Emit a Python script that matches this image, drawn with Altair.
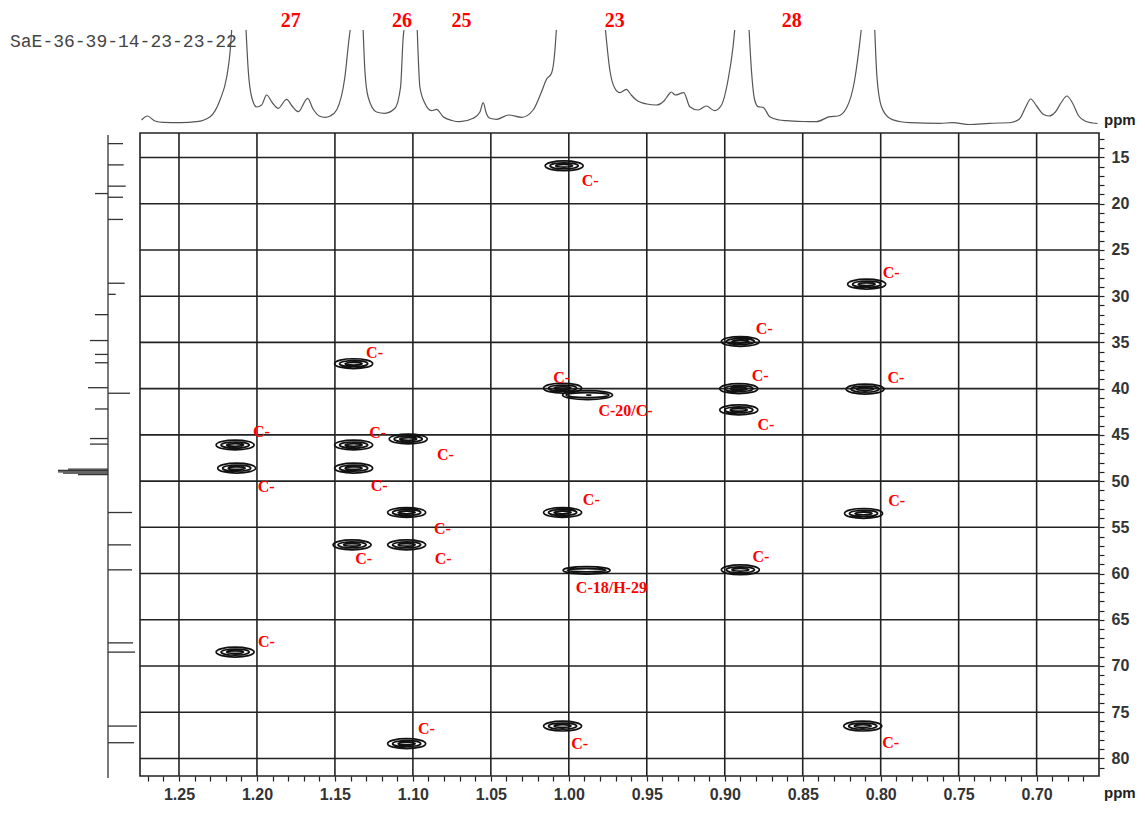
import altair as alt
import pandas as pd

# ---------------- data ----------------
sample_id = ["SaE-36-39-14-23-23-22"]

# HMBC cross peaks: 1H shift (ppm, x) and 13C shift (ppm, y)
peak_h = [1.003, 0.809, 0.890, 1.138, 1.004, 0.891, 0.810, 0.891, 1.214, 1.138,
          1.103, 1.213, 1.138, 1.104, 1.004, 0.811, 1.139, 1.104, 0.890, 1.214,
          1.004, 0.8115, 1.104]
peak_c = [15.9, 28.7, 34.9, 37.3, 39.95, 40.0, 40.05, 42.3, 46.1, 46.1,
          45.45, 48.6, 48.6, 53.4, 53.4, 53.5, 56.9, 56.9, 59.6, 68.5,
          76.5, 76.5, 78.4]

# broad / overlapping cross peaks
c20_h = [0.988]
c20_c = [40.7]
c18_h = [0.9886]
c18_c = [59.65]

# red assignment labels (left edge position)
label_text = ["C-", "C-", "C-", "C-", "C-", "C-", "C-", "C-20/C-", "C-", "C-",
              "C-", "C-", "C-", "C-", "C-", "C-", "C-", "C-", "C-", "C-",
              "C-18/H-29", "C-", "C-", "C-", "C-"]
label_h = [0.9917, 0.7987, 0.8801, 1.130, 0.8827, 0.7956, 1.0100, 0.9810, 0.8790, 1.2026,
           1.1280, 1.0846, 1.1995, 1.1270, 0.9910, 0.7952, 1.0865, 1.1370, 1.0860, 0.8822,
           0.9955, 1.1993, 1.0968, 0.9985, 0.7990]
label_c = [17.56, 27.53, 33.55, 36.1, 38.6, 38.9, 38.9, 42.45, 43.9, 44.7,
           44.8, 47.2, 50.6, 50.5, 52.1, 52.2, 55.2, 58.4, 58.4, 58.25,
           61.55, 67.4, 76.8, 78.45, 78.3]

# proton numbers above the 1D trace
top_text = ["27", "26", "25", "23", "28"]
top_h = [1.1784, 1.107, 1.0688, 0.9705, 0.8571]

# 1D 1H trace along the top (ppm, relative intensity, trace segment)
spec_ppm = [1.2740, 1.2703, 1.2654, 1.2600, 1.2490, 1.2387, 1.2300, 1.2237, 1.2194, 1.2173, 1.2162,
            1.2070, 1.2056, 1.2034, 1.2002, 1.1970, 1.1938, 1.1900, 1.1863, 1.1810, 1.1770,
            1.1735, 1.1675, 1.1640, 1.1600, 1.1564, 1.1530, 1.1489, 1.1436, 1.1408, 1.1402,
            1.1319, 1.1308, 1.1287, 1.1233, 1.1180, 1.1115, 1.1079, 1.1062, 1.1057,
            1.0972, 1.0955, 1.0923, 1.0880, 1.0848, 1.0806, 1.0750, 1.0699, 1.0613, 1.0570,
            1.0549, 1.0530, 1.0506, 1.0463, 1.0385, 1.0303, 1.0229, 1.0175, 1.0143, 1.0111,
            1.0090, 1.0080,
            0.9765, 0.9737, 0.9705, 0.9673, 0.9631, 0.9600, 0.9567, 0.9500, 0.9439, 0.9390,
            0.9353, 0.9343, 0.9317, 0.9263, 0.9224, 0.9171, 0.9118, 0.9065, 0.9021, 0.8979,
            0.8947, 0.8936,
            0.8844, 0.8829, 0.8808, 0.8786, 0.8754, 0.8712, 0.8650, 0.8604, 0.8500, 0.8412,
            0.8327, 0.8274, 0.8220, 0.8167, 0.8131, 0.8125,
            0.8038, 0.8024, 0.7995, 0.7942, 0.7880, 0.7814, 0.7622, 0.7538, 0.7429, 0.7301,
            0.7164, 0.7110, 0.7070, 0.7038, 0.7000, 0.6960, 0.6921, 0.6880, 0.6840, 0.6806,
            0.6770, 0.6730, 0.6690, 0.6640, 0.6609]
spec_int = [7, 11, 6, 4.6, 4.3, 5.3, 10.3, 27, 50, 74, 97,
            97, 57, 30, 20, 22, 32, 24, 18.7, 27.7, 20,
            15.3, 28.7, 18, 11, 9.7, 11, 17, 50, 90, 97,
            97, 57, 30, 15, 13.7, 18.7, 40, 90, 97,
            97, 40, 23.7, 16.3, 17.7, 10.3, 6.5, 5.3, 8.7, 15,
            24.3, 14, 8.7, 7.7, 12, 9.7, 17, 35.3, 47.7, 53.7,
            75, 97,
            97, 57, 38.7, 34.3, 37.7, 32, 27, 23, 22, 26,
            33.7, 35, 32, 34.3, 20.3, 17, 21, 16.3, 22, 47,
            80, 97,
            97, 57, 27, 20.3, 19.7, 10.3, 7, 6.3, 5.5, 5.3,
            10.3, 11, 18.7, 47, 88.7, 97,
            97, 50, 20.3, 8.7, 5.5, 4.3, 3.7, 4.3, 2.5, 3.7,
            4.5, 8, 20, 28, 21, 13, 11, 15, 25, 31,
            24, 11, 6, 4, 3.5]
spec_seg = ([0] * 11 + [1] * 20 + [2] * 9 + [3] * 22 + [4] * 22 + [5] * 16 + [6] * 25)

# 13C projection on the left (13C ppm, signed line length)
proj_c = [13.5, 15.8, 18.1, 18.9, 19.3, 21.7, 28.6, 29.8, 32.0, 34.8, 36.3, 37.2, 39.9, 40.5,
          42.2, 45.4, 46.0, 48.7, 48.85, 49.0, 49.15, 49.3, 53.4, 56.9, 59.6, 67.5, 68.5,
          76.5, 78.3]
proj_v = [15, 15.7, 17.7, -13, 15, 15, 16.7, 7.7, -13, -18, -13, -13, -20, 22,
          -13, -18, -18, -40, -50, -50, -45, -30, 24, 23, 24, 25, 27,
          29, 26]

# axis ticks
x_major = [1.25, 1.20, 1.15, 1.10, 1.05, 1.00, 0.95, 0.90, 0.85, 0.80, 0.75, 0.70]
y_major = [15, 20, 25, 30, 35, 40, 45, 50, 55, 60, 65, 70, 75, 80]
x_minor = [round(1.27 - 0.01 * i, 2) for i in range(61)]
y_minor = list(range(13, 82))

# ---------------- layout / style ----------------
W, H = 959, 643
INK = "#222222"
RED = "#ff0000"

XS = alt.Scale(domain=[1.275, 0.660], nice=False, zero=False)
YS = alt.Scale(domain=[12.35, 81.9], reverse=True, nice=False, zero=False)
TOP_YS = alt.Scale(domain=[0, 100], range=[-6, -106], nice=False, zero=False)
LEFT_XS = alt.Scale(domain=[0, 100], range=[-32, 68], nice=False, zero=False)


def ring(rx, ry):
    return f"M{-rx},0 A{rx},{ry} 0 1,0 {rx},0 A{rx},{ry} 0 1,0 {-rx},0 Z "


PEAK_SHAPE = ring(1, 0.26) + ring(0.74, 0.16) + ring(0.45, 0.07)
C20_SHAPE = ring(1, 0.18) + ring(0.86, 0.1) + "M-0.05,0 L0.15,0"
C18_SHAPE = ring(1, 0.16) + ring(0.82, 0.07)

x_axis = alt.Axis(orient="bottom", values=x_minor,
                  labelExpr="abs(datum.value*20 - round(datum.value*20)) < 0.01 ? format(datum.value, '.2f') : ''",
                  grid=False, domain=False, tickSize=5, tickWidth=1.2, tickColor=INK,
                  labelFont="Liberation Sans", labelFontSize=16, labelFontWeight="bold",
                  labelColor="#333333", labelPadding=5, labelOverlap=False, labelFlush=False,
                  title=None)
y_axis = alt.Axis(orient="right", values=y_minor,
                  labelExpr="datum.value % 5 == 0 ? datum.value : ''",
                  grid=False, domain=False, tickSize=5, tickWidth=1.2, tickColor=INK,
                  labelFont="Liberation Sans", labelFontSize=16, labelFontWeight="bold",
                  labelColor="#333333", labelPadding=7, labelOverlap=False, labelFlush=False,
                  title=None)

# ---------------- main 2D panel ----------------
grid_x = alt.Chart(pd.DataFrame({"h": x_major})).mark_rule(color=INK, strokeWidth=1.6).encode(
    x=alt.X("h:Q", scale=XS, axis=x_axis))
grid_y = alt.Chart(pd.DataFrame({"c": y_major})).mark_rule(color=INK, strokeWidth=1.6).encode(
    y=alt.Y("c:Q", scale=YS, axis=y_axis))

def peak_layer(h, c, shape, size):
    return alt.Chart(pd.DataFrame({"h": h, "c": c})).mark_point(
        shape=shape, size=size, filled=False, color="#111111", strokeWidth=1.7, opacity=1
    ).encode(x=alt.X("h:Q", scale=XS, axis=x_axis), y=alt.Y("c:Q", scale=YS, axis=y_axis))

peaks = peak_layer(peak_h, peak_c, PEAK_SHAPE, 1444)
c20 = peak_layer(c20_h, c20_c, C20_SHAPE, 2500)
c18 = peak_layer(c18_h, c18_c, C18_SHAPE, 2209)

labels = alt.Chart(pd.DataFrame({"h": label_h, "c": label_c, "t": label_text})).mark_text(
    align="left", baseline="middle", font="Liberation Serif", fontWeight="bold",
    fontSize=16, color=RED
).encode(x=alt.X("h:Q", scale=XS, axis=x_axis), y=alt.Y("c:Q", scale=YS, axis=y_axis), text="t:N")

main = alt.layer(grid_x, grid_y, peaks, c20, c18, labels)

# ---------------- top 1D trace ----------------
spectrum = alt.Chart(pd.DataFrame({"ppm": spec_ppm, "i": spec_int, "seg": spec_seg})).mark_line(
    color="#555555", strokeWidth=1.2, interpolate="monotone"
).encode(x=alt.X("ppm:Q", scale=XS, axis=None), y=alt.Y("i:Q", scale=TOP_YS, axis=None),
         detail="seg:N")
top_labels = alt.Chart(pd.DataFrame({"ppm": top_h, "t": top_text})).mark_text(
    align="center", baseline="middle", font="Liberation Serif", fontWeight="bold",
    fontSize=20, color=RED
).encode(x=alt.X("ppm:Q", scale=XS, axis=None), y=alt.value(-112), text="t:N")
top = alt.layer(spectrum, top_labels)

# ---------------- left 13C projection ----------------
proj_base = alt.Chart(pd.DataFrame({"a": [0]})).mark_rule(color="#333333", strokeWidth=1.3).encode(
    x=alt.value(-32), y=alt.value(2), y2=alt.value(645))
proj = alt.Chart(pd.DataFrame({"c": proj_c, "v": proj_v, "b": [0] * len(proj_c)})).mark_rule(
    color="#333333", strokeWidth=1.3
).encode(x=alt.X("b:Q", scale=LEFT_XS, axis=None), x2="v:Q",
         y=alt.Y("c:Q", scale=YS, axis=None))
left = alt.layer(proj_base, proj)

# ---------------- annotations ----------------
sid = alt.Chart(pd.DataFrame({"t": sample_id})).mark_text(
    align="left", baseline="middle", font="Liberation Mono", fontSize=18, color="#444444"
).encode(x=alt.value(-130), y=alt.value(-91), text="t:N")
ppm_top = alt.Chart(pd.DataFrame({"t": ["ppm"]})).mark_text(
    align="left", baseline="middle", font="Liberation Sans", fontWeight="bold", fontSize=15,
    color=INK
).encode(x=alt.value(964), y=alt.value(-13), text="t:N")
ppm_bottom = alt.Chart(pd.DataFrame({"t": ["ppm"]})).mark_text(
    align="left", baseline="middle", font="Liberation Sans", fontWeight="bold", fontSize=15,
    color=INK
).encode(x=alt.value(964), y=alt.value(660), text="t:N")
annot = alt.layer(sid, ppm_top, ppm_bottom)

chart = alt.layer(main, top, left, annot).resolve_scale(
    x="independent", y="independent"
).properties(
    width=W, height=H,
    padding={"left": 132, "top": 125, "right": 38, "bottom": 26},
    autosize=alt.AutoSizeParams(type="none"),
    background="white",
).configure_view(stroke=INK, strokeWidth=1.6)

chart.save("out.html", embed_options={"renderer": "svg", "actions": False})
